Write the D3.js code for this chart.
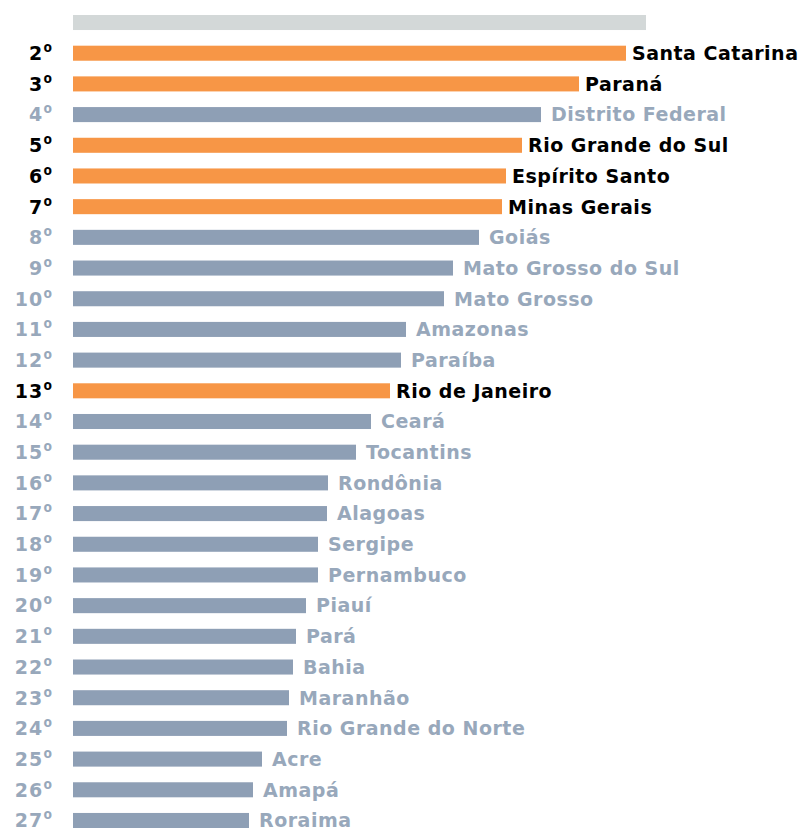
<!DOCTYPE html>
<html>
<head>
<meta charset="utf-8">
<script src="https://cdn.jsdelivr.net/npm/d3@7"></script>
<style>
	body { margin: 0; background: #fff; }
	svg { display: block; }
</style>
</head>
<body>
<div id="chart"></div>
<script>
// valores (comprimento relativo das barras)
var ranks = ["1", "2", "3", "4", "5", "6", "7", "8", "9", "10", "11", "12", "13", "14",
	"15", "16", "17", "18", "19", "20", "21", "22", "23", "24", "25", "26", "27"];
var states = ["", "Santa Catarina", "Paraná", "Distrito Federal", "Rio Grande do Sul", "Espírito Santo",
	"Minas Gerais", "Goiás", "Mato Grosso do Sul", "Mato Grosso", "Amazonas", "Paraíba", "Rio de Janeiro",
	"Ceará", "Tocantins", "Rondônia", "Alagoas", "Sergipe", "Pernambuco", "Piauí", "Pará", "Bahia",
	"Maranhão", "Rio Grande do Norte", "Acre", "Amapá", "Roraima"];
var values = [573, 553, 506, 468, 449, 433, 429, 406, 380, 371, 333, 328, 317, 298, 283, 255, 254,
	245, 245, 233, 223, 220, 216, 214, 189, 180, 176];
var groups = ["top", "sul", "sul", "outro", "sul", "sul", "sul", "outro", "outro", "outro", "outro", "outro",
	"sul", "outro", "outro", "outro", "outro", "outro", "outro", "outro", "outro", "outro", "outro",
	"outro", "outro", "outro", "outro"];

var width = 800, height = 830;

var barColor = { top: "#d3d8d8", sul: "#f79646", outro: "#8e9fb5" };
var textColor = { top: "#d3d8d8", sul: "#000000", outro: "#98a8bb" };
var labelGap = { top: 7, sul: 6, outro: 10 };

var data = ranks.map(function (r, i) {
	return { rank: r, name: states[i], value: values[i], group: groups[i] };
});

var svg = d3.select("#chart").append("svg")
	.attr("width", width)
	.attr("height", height);

var x = d3.scaleLinear()
	.domain([0, d3.max(values)])
	.range([73, 646]);

var y = d3.scaleBand()
	.domain(ranks)
	.range([15, 828])
	.paddingInner(0.51)
	.paddingOuter(0);

var row = svg.selectAll(".row")
	.data(data)
	.enter()
	.append("g")
	.attr("class", "row")
	.attr("transform", function (d) { return "translate(0," + y(d.rank) + ")"; });

row.append("rect")
	.attr("x", x(0))
	.attr("y", 0)
	.attr("height", y.bandwidth())
	.attr("width", function (d) { return x(d.value) - x(0); })
	.style("fill", function (d) { return barColor[d.group]; });

// posição no ranking: número + "º" (sem sublinhado, por isso outra fonte)
var rankText = row.filter(function (d) { return d.group !== "top"; })
	.append("text")
	.attr("x", 52)
	.attr("y", y.bandwidth() / 2)
	.attr("dy", "0.36em")
	.style("text-anchor", "end")
	.attr("font-family", "DejaVu Sans")
	.attr("font-weight", "bold")
	.attr("font-size", 19)
	.attr("letter-spacing", 1.2)
	.attr("fill", function (d) { return textColor[d.group]; });

rankText.append("tspan")
	.text(function (d) { return d.rank; });

rankText.append("tspan")
	.attr("font-family", "Noto Sans")
	.attr("font-size", 22)
	.attr("letter-spacing", 0)
	.text("º");

row.append("text")
	.attr("x", function (d) { return x(d.value) + labelGap[d.group]; })
	.attr("y", y.bandwidth() / 2)
	.attr("dy", "0.36em")
	.attr("font-family", "DejaVu Sans")
	.attr("font-weight", "bold")
	.attr("font-size", 19)
	.attr("letter-spacing", 0.5)
	.attr("fill", function (d) { return textColor[d.group]; })
	.text(function (d) { return d.name; });
</script>
</body>
</html>
